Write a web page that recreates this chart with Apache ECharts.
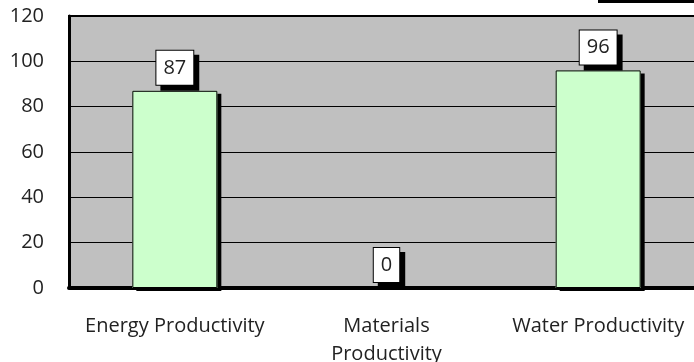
<!DOCTYPE html>
<html>
<head>
<meta charset="utf-8">
<script src="https://cdn.jsdelivr.net/npm/echarts@6/dist/echarts.min.js"></script>
<style>
  html, body { margin: 0; padding: 0; background: #fff; }
  #main { width: 694px; height: 362px; }
</style>
</head>
<body>
<div id="main"></div>
<script>
// chart data
var categories = ['Energy Productivity', 'Materials\nProductivity', 'Water Productivity'];
var values = [87, 0, 96];
var yTicks = [0, 20, 40, 60, 80, 100, 120];

var font = 'Open Sans';
var myChart = echarts.init(document.getElementById('main'));
myChart.setOption({
    animation: false,
    grid: {
        left: 69, top: 16, width: 635, height: 272,
        outerBoundsMode: 'none',
        containLabel: false,
        show: true,
        backgroundColor: '#c0c0c0',
        borderColor: '#000',
        borderWidth: 2
    },
    graphic: [{
        type: 'rect',
        shape: { x: 598, y: 0, width: 100, height: 3 },
        style: { fill: '#000' }
    }],
    xAxis: {
        type: 'category',
        data: categories,
        axisLine: { lineStyle: { color: '#000', width: 4 } },
        axisTick: { show: false },
        axisLabel: { color: '#222', fontFamily: font, fontSize: 20, margin: 24, lineHeight: 28, interval: 0 }
    },
    yAxis: {
        type: 'value',
        min: yTicks[0],
        max: yTicks[yTicks.length - 1],
        interval: 20,
        axisLine: { show: true, lineStyle: { color: '#000', width: 3 } },
        axisTick: { show: false },
        splitLine: { lineStyle: { color: '#000', width: 1 } },
        axisLabel: { color: '#222', fontFamily: font, fontSize: 20, margin: 25 }
    },
    series: [{
        // fill + drop shadow
        type: 'bar',
        data: values,
        barWidth: 85,
        itemStyle: {
            color: '#ccffcc',
            shadowColor: '#000',
            shadowBlur: 0,
            shadowOffsetX: 4,
            shadowOffsetY: 3
        },
        label: {
            show: true,
            position: 'top',
            distance: 6,
            color: '#222',
            fontFamily: font,
            fontSize: 20,
            lineHeight: 20,
            backgroundColor: '#fff',
            borderColor: '#000',
            borderWidth: 1,
            padding: [7, 7, 7, 7],
            shadowColor: '#000',
            shadowBlur: 0,
            shadowOffsetX: 5,
            shadowOffsetY: 5
        },
        z: 2
    }, {
        // outline on top
        type: 'bar',
        data: values,
        barWidth: 85,
        barGap: '-100%',
        itemStyle: {
            color: 'rgba(0,0,0,0)',
            borderColor: '#000',
            borderWidth: 1
        },
        z: 3,
        silent: true
    }]
});
</script>
</body>
</html>
